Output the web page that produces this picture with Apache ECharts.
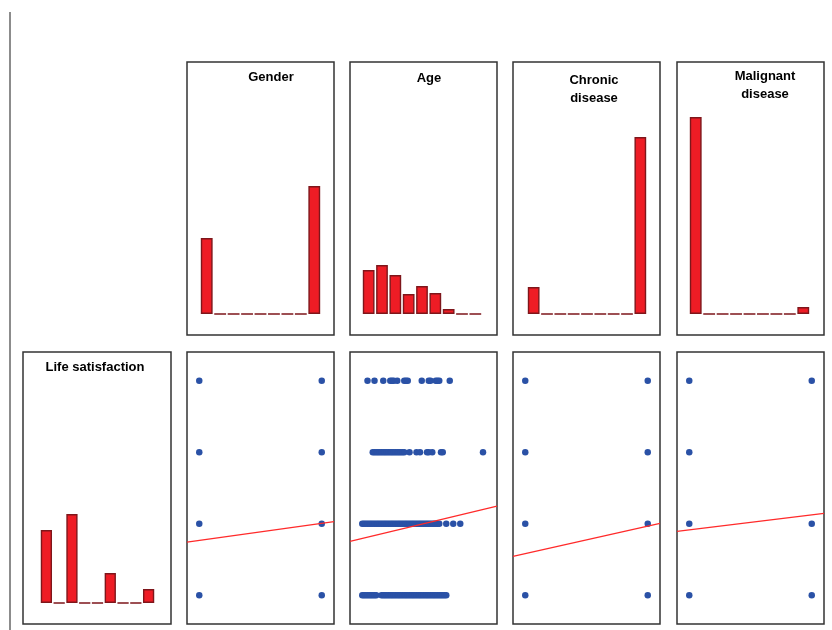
<!DOCTYPE html>
<html>
<head>
<meta charset="utf-8">
<script src="https://cdn.jsdelivr.net/npm/echarts@6/dist/echarts.min.js"></script>
<style>
html, body { margin: 0; background: #fff; }
#main { width: 832px; height: 630px; }
</style>
</head>
<body>
<div id="main"></div>
<script>
// histogram bins (9 per variable)
var bins = ['1', '2', '3', '4', '5', '6', '7', '8', '9'];
var genderHist = [76, 0, 0, 0, 0, 0, 0, 0, 128];
var ageHist = [44, 49, 39, 20, 28, 21, 5, 0, 0];
var chronicHist = [27, 0, 0, 0, 0, 0, 0, 0, 177];
var malignantHist = [197, 0, 0, 0, 0, 0, 0, 0, 7];
var lifeHist = [73, 0, 89, 0, 0, 30, 0, 0, 14];

// scatter: [x, life satisfaction]
var genderPoints = [[0, 1], [0, 2], [0, 3], [0, 4], [1, 1], [1, 2], [1, 3], [1, 4]];
var chronicPoints = [[0, 1], [0, 2], [0, 3], [0, 4], [1, 1], [1, 2], [1, 3], [1, 4]];
var malignantPoints = [[0, 1], [0, 2], [0, 3], [0, 4], [1, 1], [1, 2], [1, 4]];

// ages observed at each satisfaction level
var ageSat4 = [23, 27, 32, 36, 37, 38, 40, 44, 45, 46, 54, 58, 59, 62, 63, 64, 70];
var ageSat3 = [26, 27, 28, 29, 30, 31, 32, 33, 34, 35, 36, 37, 38, 39, 40, 41, 42, 43, 44,
               47, 51, 53, 57, 58, 60, 65, 66, 89];
var ageSat2 = [20, 21, 22, 23, 24, 25, 26, 27, 28, 29, 30, 31, 32, 33, 34, 35, 36, 37, 38, 39,
               40, 41, 42, 43, 44, 45, 46, 47, 48, 49, 50, 51, 52, 53, 54, 55, 56, 57, 58, 59,
               60, 61, 62, 63, 64, 68, 72, 76];
var ageSat1 = [20, 21, 22, 23, 24, 25, 26, 27, 28, 31, 32, 33, 34, 35, 36, 37, 38, 39, 40,
               41, 42, 43, 44, 45, 46, 47, 48, 49, 50, 51, 52, 53, 54, 55, 56, 57, 58, 59, 60,
               61, 62, 63, 64, 65, 66, 67, 68];

// fitted regression lines (end points)
var genderFit = [[-0.1, 1.744], [1.1, 2.029]];
var ageFit = [[13, 1.754], [97, 2.247]];
var chronicFit = [[-0.1, 1.545], [1.1, 2.006]];
var malignantFit = [[-0.1, 1.894], [1.1, 2.145]];

function withY(list, y) {
    return list.map(function (a) { return [a, y]; });
}
var agePoints = [].concat(withY(ageSat4, 4), withY(ageSat3, 3), withY(ageSat2, 2), withY(ageSat1, 1));

var myChart = echarts.init(document.getElementById('main'));

var BAR = '#EE1C25', BAR_EDGE = '#7E161B', DOT = '#2A51A6', FIT = '#FF2A2A';
var frameStyle = { show: true, borderColor: '#333', borderWidth: 1.5, backgroundColor: '#fff' };

var grids = [], xAxes = [], yAxes = [], series = [];

function addGrid(g) {
    grids.push(g);
    return grids.length - 1;
}
function frame(left, top, width, height) {
    var gi = addGrid(Object.assign({ left: left, top: top, width: width, height: height }, frameStyle));
    xAxes.push({ type: 'value', gridIndex: gi, show: false, min: 0, max: 1 });
    yAxes.push({ type: 'value', gridIndex: gi, show: false, min: 0, max: 1 });
    return gi;
}
function histogram(left, top, width, height, values) {
    var gi = addGrid({ left: left, top: top, width: width, height: height });
    xAxes.push({ type: 'category', gridIndex: gi, data: bins, show: false });
    yAxes.push({ type: 'value', gridIndex: gi, show: false, min: 0, max: height });
    series.push({
        type: 'bar', xAxisIndex: gi, yAxisIndex: gi, data: values,
        barCategoryGap: '12%', silent: true,
        itemStyle: { color: BAR, borderColor: BAR_EDGE, borderWidth: 1.4 }
    });
}
function scatter(left, top, width, height, xmin, xmax, points, fit) {
    var gi = addGrid(Object.assign({ left: left, top: top, width: width, height: height }, frameStyle));
    xAxes.push({ type: 'value', gridIndex: gi, show: false, min: xmin, max: xmax });
    yAxes.push({ type: 'value', gridIndex: gi, show: false, min: 0.6, max: 4.4 });
    series.push({
        type: 'scatter', xAxisIndex: gi, yAxisIndex: gi, data: points,
        symbolSize: 6.5, silent: true, itemStyle: { color: DOT, opacity: 1 }
    });
    series.push({
        type: 'line', xAxisIndex: gi, yAxisIndex: gi, data: fit,
        symbol: 'none', silent: true, lineStyle: { color: FIT, width: 1.2 }
    });
}

// frames, top row
frame(187, 62, 147, 273);
frame(350, 62, 147, 273);
frame(513, 62, 147, 273);
frame(677, 62, 147, 273);
// life satisfaction frame
frame(23, 352, 148, 272);

// scatter panels, bottom row
scatter(187, 352, 147, 272, -0.1, 1.1, genderPoints, genderFit);
scatter(350, 352, 147, 272, 13, 97, agePoints, ageFit);
scatter(513, 352, 147, 272, -0.1, 1.1, chronicPoints, chronicFit);
scatter(677, 352, 147, 272, -0.1, 1.1, malignantPoints, malignantFit);

// histograms on the diagonal
histogram(200, 62, 121, 252, genderHist);
histogram(362, 62, 120, 252, ageHist);
histogram(527, 62, 120, 252, chronicHist);
histogram(689, 62, 121, 252, malignantHist);
histogram(40, 351, 115, 252, lifeHist);

var titleFont = 'bold 13px "Liberation Sans", Arial, sans-serif';
function label(x, y, text) {
    return {
        type: 'text', x: x, y: y, z: 100,
        style: { text: text, font: titleFont, fill: '#000', align: 'center', verticalAlign: 'middle', lineHeight: 18 }
    };
}

var option = {
    backgroundColor: '#fff',
    animation: false,
    grid: grids,
    xAxis: xAxes,
    yAxis: yAxes,
    series: series,
    graphic: [
        { type: 'line', shape: { x1: 10, y1: 12, x2: 10, y2: 630 }, style: { stroke: '#666', lineWidth: 1.5 } },
        label(271, 77, 'Gender'),
        label(429, 78, 'Age'),
        label(594, 89, 'Chronic\ndisease'),
        label(765, 85, 'Malignant\ndisease'),
        label(95, 367, 'Life satisfaction')
    ]
};

myChart.setOption(option);
</script>
</body>
</html>
